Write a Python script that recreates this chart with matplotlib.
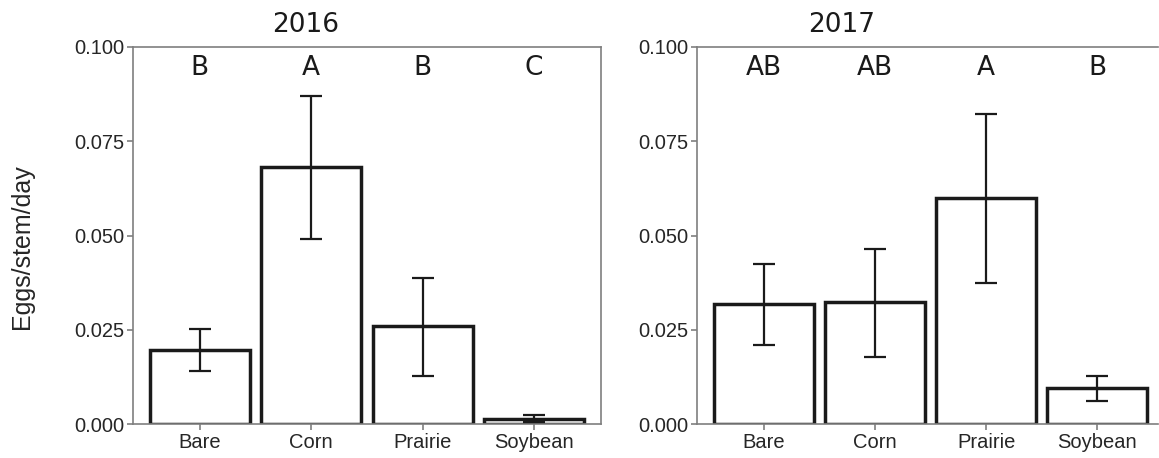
import matplotlib
matplotlib.use("Agg")
import matplotlib.pyplot as plt
import numpy as np

categories = ["Bare", "Corn", "Prairie", "Soybean"]

mean_2016 = [0.0196, 0.0682, 0.0259, 0.0014]
low_2016 = [0.0140, 0.0491, 0.0127, 0.0005]
high_2016 = [0.0251, 0.0871, 0.0388, 0.0023]
letters_2016 = ["B", "A", "B", "C"]

mean_2017 = [0.0318, 0.0323, 0.0599, 0.0096]
low_2017 = [0.0210, 0.0178, 0.0374, 0.0061]
high_2017 = [0.0424, 0.0465, 0.0821, 0.0127]
letters_2017 = ["AB", "AB", "A", "B"]

yticks = [0.0, 0.025, 0.050, 0.075, 0.100]

W, H = 1159, 458
fig = plt.figure(figsize=(W / 100, H / 100), dpi=100)

def px_axes(x0, x1, y_top, y_bot):
    return fig.add_axes([x0 / W, (H - y_bot) / H, (x1 - x0) / W, (y_bot - y_top) / H])

ax1 = px_axes(133, 601, 47, 424)
ax2 = px_axes(697, 1158, 47, 424)

spine_col = "#7f7f7f"
ink = "#1a1a1a"

def draw(ax, means, lows, highs, letters, xmax):
    x = np.arange(len(categories))
    ax.bar(x, means, width=0.9, facecolor="white", edgecolor=ink, linewidth=2.5, zorder=2)
    means_a = np.array(means)
    yerr = np.vstack([means_a - np.array(lows), np.array(highs) - means_a])
    ax.errorbar(x, means, yerr=yerr, fmt="none", ecolor=ink, elinewidth=1.6,
                capsize=8, capthick=1.6, zorder=3)
    for xi, lab in zip(x, letters):
        ax.text(xi, 0.0944, lab, ha="center", va="center", fontsize=19,
                family="DejaVu Sans", color=ink)
    ax.set_xlim(-0.6, xmax)
    ax.set_ylim(0, 0.1)
    ax.set_xticks(x)
    ax.set_xticklabels(categories, family="Liberation Sans", fontsize=14.5, color="#262626")
    ax.set_yticks(yticks)
    ax.set_yticklabels([f"{v:.3f}" for v in yticks], family="Liberation Sans",
                       fontsize=14.5, color="#262626")
    for s in ax.spines.values():
        s.set_color(spine_col)
        s.set_linewidth(1.2)
    ax.tick_params(axis="both", color=spine_col, width=1.2, length=4.5, pad=2)

draw(ax1, mean_2016, low_2016, high_2016, letters_2016, 3.6)
# right panel is cut off by the figure edge in the reference
draw(ax2, mean_2017, low_2017, high_2017, letters_2017, 3.545)
ax2.spines["right"].set_visible(False)

fig.text(306 / W, 1 - 25 / H, "2016", ha="center", va="center", fontsize=19,
         family="DejaVu Sans", color=ink)
fig.text(842 / W, 1 - 25 / H, "2017", ha="center", va="center", fontsize=19,
         family="DejaVu Sans", color=ink)
fig.text(22 / W, 1 - 247 / H, "Eggs/stem/day", rotation=90, ha="center", va="center",
         fontsize=18, family="Liberation Sans", color="#262626")

fig.savefig("out.png", dpi=100)
